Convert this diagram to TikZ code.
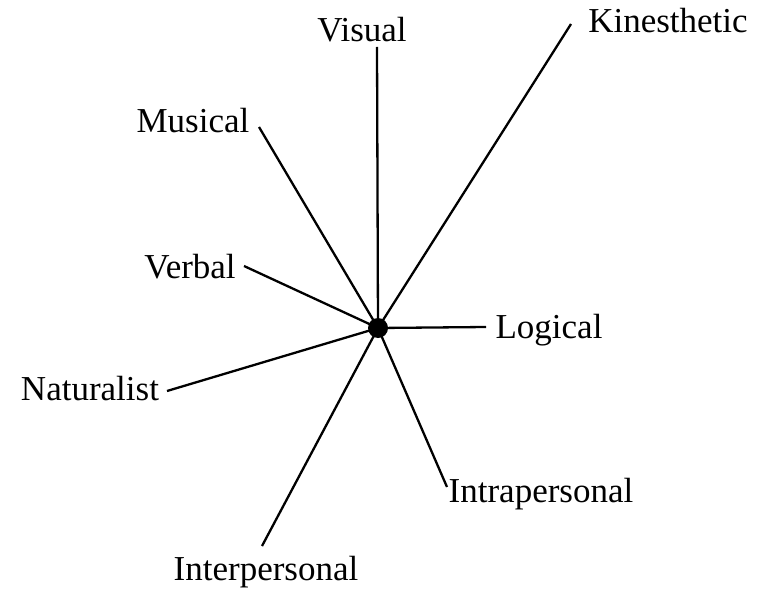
\documentclass[tikz,border=0pt]{standalone}
\usepackage{fontspec}
\setmainfont{Liberation Serif}
\begin{document}
\begin{tikzpicture}[x=1pt,y=-1pt,
  lbl/.style={anchor=base,inner sep=0pt,font=\fontsize{35}{42}\selectfont},
  spoke/.style={line width=2.3pt},
  hub/.style={circle,fill=black,minimum size=20pt,inner sep=0pt}]
\useasboundingbox (0,0) rectangle (759,588);
% labels
\node[lbl] (visual) at (362,42) {Visual};
\node[lbl] (kin) at (668,33) {Kinesthetic};
\node[lbl] (mus) at (193,133) {Musical};
\node[lbl] (verb) at (190,278) {Verbal};
\node[lbl] (log) at (549,338) {Logical};
\node[lbl] (nat) at (90,400) {Naturalist};
\node[lbl] (intra) at (541,502) {Intrapersonal};
\node[lbl] (inter) at (266,580) {Interpersonal};
% spoke ends
\coordinate (eVis) at (377,47);
\coordinate (eKin) at (571,24);
\coordinate (eMus) at (259,127);
\coordinate (eVerb) at (244,266);
\coordinate (eLog) at (486,327);
\coordinate (eNat) at (167,391);
\coordinate (eIntra) at (447,487);
\coordinate (eInter) at (262,546);
% hub
\node[hub] (c) at (378,328) {};
\foreach \e in {eVis,eKin,eMus,eVerb,eLog,eNat,eIntra,eInter}
  \draw[spoke] (c.center) -- (\e);
\end{tikzpicture}
\end{document}
